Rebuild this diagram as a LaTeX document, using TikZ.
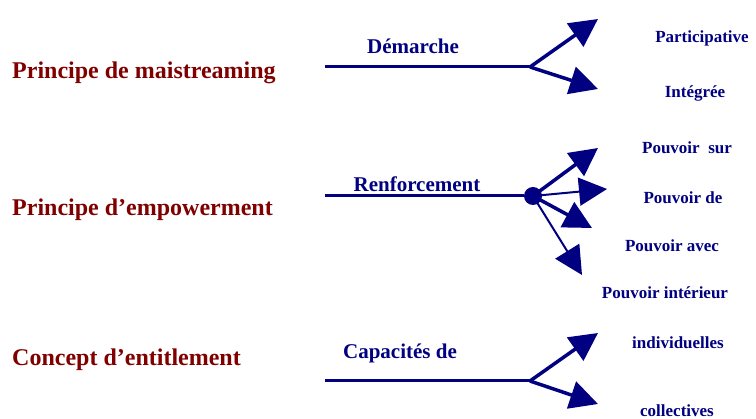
\documentclass[tikz,border=0pt]{standalone}
\usepackage{fontspec}
\setmainfont{Liberation Serif}
\usetikzlibrary{arrows.meta}
\definecolor{darkred}{RGB}{128,0,0}
\definecolor{navyblue}{RGB}{0,0,128}
\tikzset{
  concept/.style={text=darkred, font=\fontsize{24}{28}\selectfont\bfseries, anchor=west, inner sep=0pt},
  stem/.style={text=navyblue, font=\fontsize{21}{25}\selectfont\bfseries, inner sep=0pt},
  leaf/.style={text=navyblue, font=\fontsize{17}{20}\selectfont\bfseries, inner sep=0pt},
  trunk/.style={navyblue, line width=3pt},
  branch/.style={navyblue, line width=3.5pt, -{Triangle[length=28pt,width=28pt]}},
  thinbranch/.style={navyblue, line width=2pt, -{Triangle[length=28pt,width=28pt]}}
}
\begin{document}
\begin{tikzpicture}[x=1pt,y=1pt,yscale=-1]
\useasboundingbox (0,0) rectangle (756,419);

% left labels
\node[concept] (mainstream) at (12, 73) {Principe de maistreaming};
\node[concept] (empower) at (12, 210) {Principe d’empowerment};
\node[concept] (entitle) at (12, 360) {Concept d’entitlement};

% first part
\coordinate (s1) at (325, 67);
\coordinate (f1) at (530, 67);
\coordinate (t11) at (598, 19);
\coordinate (t12) at (598, 89);
\node[stem] (demarche) at (413, 46) {Démarche};
\node[leaf] (particip) at (702, 38) {Participative};
\node[leaf] (integree) at (695, 93) {Intégrée};
\draw[trunk] (s1) -- (f1);
\draw[branch] (f1) -- (t11);
\draw[branch] (f1) -- (t12);

% second part
\coordinate (s2) at (325, 196);
\node[circle, fill=navyblue, inner sep=0pt, minimum size=18pt] (dot) at (533, 196) {};
\coordinate (t21) at (598, 148);
\coordinate (t22) at (607, 189);
\coordinate (t23) at (592, 228);
\coordinate (t24) at (582, 275);
\node[stem] (renfort) at (417, 184) {Renforcement};
\node[leaf] (sur) at (687, 148) {Pouvoir\ \ sur};
\node[leaf] (de) at (683, 198) {Pouvoir de};
\node[leaf] (avec) at (672, 246) {Pouvoir avec};
\node[leaf] (interieur) at (665, 293) {Pouvoir intérieur};
\draw[trunk] (s2) -- (dot);
\draw[branch] (dot.center) -- (t21);
\draw[thinbranch] (dot.center) -- (t22);
\draw[branch] (dot.center) -- (t23);
\draw[thinbranch] (dot.center) -- (t24);

% third part
\coordinate (s3) at (325, 381);
\coordinate (f3) at (530, 381);
\coordinate (t31) at (598, 333);
\coordinate (t32) at (598, 404);
\node[stem] (capac) at (400, 353) {Capacités de};
\node[leaf] (indiv) at (678, 343) {individuelles};
\node[leaf] (collect) at (677, 411) {collectives};
\draw[trunk] (s3) -- (f3);
\draw[branch] (f3) -- (t31);
\draw[branch] (f3) -- (t32);

\end{tikzpicture}
\end{document}
